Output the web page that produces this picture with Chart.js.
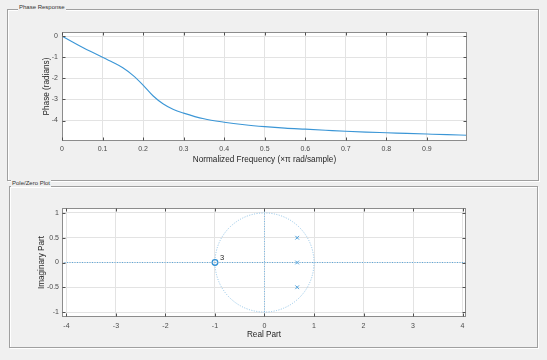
<!DOCTYPE html>
<html><head><meta charset="utf-8">
<script src="https://cdn.jsdelivr.net/npm/chart.js@4.4.0/dist/chart.umd.min.js"></script>
<style>
html,body{margin:0;padding:0;background:#f0f0f0;width:547px;height:360px;overflow:hidden;font-family:"Liberation Sans",Arial,sans-serif;}
.panel{position:absolute;border:1px solid #a0a0a0;box-shadow:1px 1px 0 #fff, inset 1px 1px 0 #fff;}
.ptitle{position:absolute;background:#f0f0f0;font-size:6px;color:#333;padding:0 1px;line-height:7px;white-space:nowrap;}
canvas{position:absolute;}
</style></head>
<body>
<div class="panel" style="left:7px;top:9px;width:530px;height:170px"></div>
<div class="ptitle" style="left:18px;top:4px">Phase Response</div>
<div class="panel" style="left:9px;top:186px;width:527px;height:160px"></div>
<div class="ptitle" style="left:11px;top:180px">Pole/Zero Plot</div>
<canvas id="c1" width="547" height="180" style="left:0;top:0"></canvas>
<canvas id="c2" width="547" height="180" style="left:0;top:180px"></canvas>
<script>
// ---- Phase response data ----
const phaseFreq = [0,0.025,0.05,0.075,0.1,0.125,0.15,0.175,0.2,0.225,0.25,0.275,0.3,0.35,0.4,0.45,0.5,0.55,0.6,0.65,0.7,0.75,0.8,0.85,0.9,0.95,0.999];
const phaseRad  = [0,-0.27,-0.53,-0.77,-1.0,-1.24,-1.50,-1.86,-2.32,-2.84,-3.22,-3.48,-3.65,-3.92,-4.08,-4.20,-4.29,-4.36,-4.41,-4.46,-4.51,-4.55,-4.58,-4.61,-4.64,-4.67,-4.70];
const phaseXTicks = [0,0.1,0.2,0.3,0.4,0.5,0.6,0.7,0.8,0.9];
const phaseYTicks = [-4,-3,-2,-1,0];
const phaseXLim = [0,0.999];
const phaseYLim = [-4.97,0.19];

// ---- Pole/zero data ----
const zeroRe = [-1];
const zeroIm = [0];
const zeroMult = ['3'];
const poleRe = [0.66,0.66,0.66];
const poleIm = [0.5,0,-0.5];
const pzXTicks = [-4,-3,-2,-1,0,1,2,3,4];
const pzYTicks = [-1,-0.5,0,0.5,1];
const pzXLim = [-4.09,4.07];
const pzYLim = [-1.1,1.1];
const unitCircleRadius = [1];

const FONT = "'Liberation Sans', Arial, sans-serif";
const tickFont = {family:FONT,size:7};
const titleFont = {family:FONT,size:8.2};
const tickColor = '#4a4a4a';
const gridColor = '#e3e3e3';

const bgPlugin = {
  id:'plotbg',
  beforeDraw(chart){
    const {ctx, chartArea:a} = chart;
    ctx.save(); ctx.fillStyle='#ffffff';
    ctx.fillRect(a.left,a.top,a.right-a.left,a.bottom-a.top);
    ctx.restore();
  }
};

const framePlugin = {
  id:'frame',
  afterDraw(chart){
    const {ctx, chartArea:a, scales:{x,y}} = chart;
    ctx.save();
    const l=Math.round(a.left)+0.5, t=Math.round(a.top)+0.5, r=Math.round(a.right)-0.5, b=Math.round(a.bottom)-0.5;
    ctx.strokeStyle='#8c8c8c'; ctx.lineWidth=1;
    ctx.strokeRect(l,t,r-l,b-t);
    ctx.strokeStyle='#505050';
    const L=3;
    ctx.beginPath();
    x.ticks.forEach(tk=>{const px=Math.round(x.getPixelForValue(tk.value))+0.5; ctx.moveTo(px,t); ctx.lineTo(px,t+L); ctx.moveTo(px,b); ctx.lineTo(px,b-L);});
    y.ticks.forEach(tk=>{const py=Math.round(y.getPixelForValue(tk.value))+0.5; ctx.moveTo(l,py); ctx.lineTo(l+L,py); ctx.moveTo(r,py); ctx.lineTo(r-L,py);});
    ctx.stroke();
    ctx.restore();
  }
};

function axisOpts(lim, ticks, fitKey, fitVal, title, titlePad, tickPad){
  return {
    type:'linear', min:lim[0], max:lim[1],
    afterBuildTicks:(s)=>{ s.ticks = ticks.map(v=>({value:v})); },
    afterFit:(s)=>{ s[fitKey]=fitVal; },
    grid:{color:gridColor, drawTicks:false, lineWidth:1},
    border:{display:false},
    ticks:{font:tickFont,color:tickColor,padding:tickPad,maxRotation:0,autoSkip:false, callback:(v)=>String(v)},
    title:{display:true,text:title,font:titleFont,color:'#262626',padding:titlePad}
  };
}

new Chart(document.getElementById('c1'),{
  type:'scatter',
  data:{datasets:[{
    data: phaseFreq.map((f,i)=>({x:f,y:phaseRad[i]})),
    showLine:true, borderColor:'#3b96d6', borderWidth:1.1, pointRadius:0,
    cubicInterpolationMode:'monotone'
  }]},
  options:{
    responsive:false, animation:false, devicePixelRatio:1,
    layout:{padding:{left:0,top:32,right:80,bottom:0}, autoPadding:false},
    plugins:{legend:{display:false},tooltip:{enabled:false}},
    scales:{
      x: axisOpts(phaseXLim, phaseXTicks, 'height', 39, 'Normalized Frequency (\u00d7\u03c0 rad/sample)', {top:0,bottom:15}, 4),
      y: axisOpts(phaseYLim, phaseYTicks, 'width', 62, 'Phase (radians)', {top:42,bottom:0}, 4)
    }
  },
  plugins:[bgPlugin, framePlugin]
});

const pzPlugin = {
  id:'pz',
  beforeDatasetsDraw(chart){
    const {ctx, scales:{x,y}} = chart;
    const cx=x.getPixelForValue(0), cy=y.getPixelForValue(0);
    const rx=Math.abs(x.getPixelForValue(unitCircleRadius[0])-cx);
    const ry=Math.abs(y.getPixelForValue(unitCircleRadius[0])-cy);
    ctx.save();
    ctx.strokeStyle='#8ec3e8'; ctx.lineWidth=1; ctx.setLineDash([1,1.5]);
    ctx.beginPath(); ctx.ellipse(cx,cy,rx,ry,0,0,Math.PI*2); ctx.stroke();
    ctx.restore();
  },
  afterDatasetsDraw(chart){
    const {ctx, scales:{x,y}} = chart;
    ctx.save();
    ctx.fillStyle='#262626'; ctx.font='7.5px '+FONT; ctx.textBaseline='middle'; ctx.textAlign='left';
    zeroRe.forEach((re,i)=>{ ctx.fillText(zeroMult[i], x.getPixelForValue(re)+5, y.getPixelForValue(zeroIm[i])-4.5); });
    ctx.restore();
  }
};

new Chart(document.getElementById('c2'),{
  type:'scatter',
  data:{datasets:[
    {data:[{x:pzXLim[0],y:0},{x:pzXLim[1],y:0}], showLine:true, borderColor:'#5aa8de', borderWidth:1, borderDash:[1,1.5], pointRadius:0},
    {data:[{x:0,y:pzYLim[0]},{x:0,y:pzYLim[1]}], showLine:true, borderColor:'#7ab8e4', borderWidth:1, borderDash:[1,1.5], pointRadius:0},
    {data: zeroRe.map((r,i)=>({x:r,y:zeroIm[i]})), pointStyle:'circle', pointRadius:2.8, borderColor:'#2f8fd4', backgroundColor:'rgba(0,0,0,0)', borderWidth:1.3},
    {data: poleRe.map((r,i)=>({x:r,y:poleIm[i]})), pointStyle:'crossRot', pointRadius:2.6, borderColor:'#4a9fdb', borderWidth:1}
  ]},
  options:{
    responsive:false, animation:false, devicePixelRatio:1,
    layout:{padding:{left:0,top:28,right:81,bottom:0}, autoPadding:false},
    plugins:{legend:{display:false},tooltip:{enabled:false}},
    scales:{
      x: axisOpts(pzXLim, pzXTicks, 'height', 43, 'Real Part', {top:0,bottom:20}, 5),
      y: axisOpts(pzYLim, pzYTicks, 'width', 62, 'Imaginary Part', {top:37,bottom:0}, 3)
    }
  },
  plugins:[bgPlugin, framePlugin, pzPlugin]
});
</script>
</body></html>
